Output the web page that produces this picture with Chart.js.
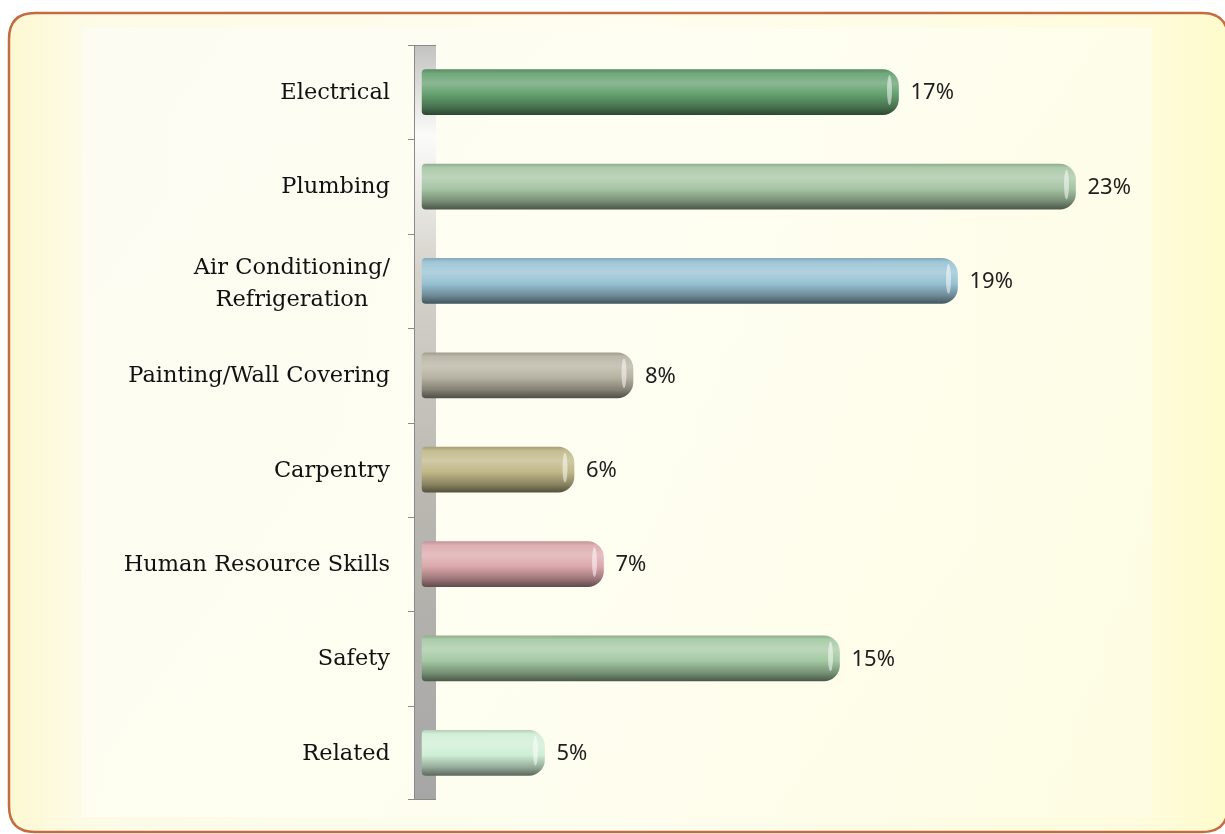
<!DOCTYPE html>
<html>
<head>
<meta charset="utf-8">
<script src="https://cdn.jsdelivr.net/npm/chart.js@4.4.1/dist/chart.umd.min.js"></script>
<style>
  html, body { margin: 0; padding: 0; background: #fff; }
  #wrap { width: 1225px; height: 834px; }
</style>
</head>
<body>
<div id="wrap"><canvas id="myChart" width="1225" height="834"></canvas></div>
<script>
const categories = [
  'Electrical',
  'Plumbing',
  ['Air Conditioning/', 'Refrigeration'],
  'Painting/Wall Covering',
  'Carpentry',
  'Human Resource Skills',
  'Safety',
  'Related'
];
const shares = [17, 23, 19, 8, 6, 7, 15, 5];
const barColors = ['#64a06f', '#a6c5a4', '#98c2d3', '#b7b3a2', '#c0b888', '#dca8ac', '#a4c9a3', '#cfeed5'];

// lighten (f>0) or darken (f<0) a hex colour
function shade(hex, f) {
  const n = parseInt(hex.slice(1), 16);
  let r = n >> 16, g = (n >> 8) & 255, b = n & 255;
  if (f >= 0) {
    r += (255 - r) * f; g += (255 - g) * f; b += (255 - b) * f;
  } else {
    r *= 1 + f; g *= 1 + f; b *= 1 + f;
  }
  return 'rgb(' + Math.round(r) + ',' + Math.round(g) + ',' + Math.round(b) + ')';
}

const BAR_H = 45;

function barFill(c) {
  const chart = c.chart;
  const col = barColors[c.dataIndex];
  if (!chart.chartArea) return col;
  const y = chart.scales.y.getPixelForValue(c.dataIndex);
  const g = chart.ctx.createLinearGradient(0, y - BAR_H / 2, 0, y + BAR_H / 2);
  g.addColorStop(0, shade(col, -0.12));
  g.addColorStop(0.08, shade(col, 0.08));
  g.addColorStop(0.3, shade(col, 0.25));
  g.addColorStop(0.55, shade(col, 0));
  g.addColorStop(0.82, shade(col, -0.28));
  g.addColorStop(1, shade(col, -0.55));
  return g;
}

// frame, wall and text are drawn around the chart
const decor = {
  id: 'decor',
  beforeDraw(chart) {
    const ctx = chart.ctx;
    ctx.save();
    ctx.fillStyle = '#fff';
    ctx.fillRect(0, 0, chart.width, chart.height);
    const x0 = 9, y0 = 13, x1 = 1228, y1 = 832, r = 26;
    ctx.beginPath();
    ctx.moveTo(x0 + r, y0);
    ctx.lineTo(x1 - r, y0);
    ctx.quadraticCurveTo(x1, y0, x1, y0 + r);
    ctx.lineTo(x1, y1 - r);
    ctx.quadraticCurveTo(x1, y1, x1 - r, y1);
    ctx.lineTo(x0 + r, y1);
    ctx.quadraticCurveTo(x0, y1, x0, y1 - r);
    ctx.lineTo(x0, y0 + r);
    ctx.quadraticCurveTo(x0, y0, x0 + r, y0);
    ctx.closePath();
    const bg = ctx.createLinearGradient(x0, 0, x1, 0);
    bg.addColorStop(0, '#fcf8d2');
    bg.addColorStop(0.06, '#fdfbe6');
    bg.addColorStop(0.5, '#fefdf0');
    bg.addColorStop(0.93, '#fefcdc');
    bg.addColorStop(1, '#fefbcc');
    ctx.fillStyle = bg;
    ctx.fill();
    // plot area panel
    const pg = ctx.createLinearGradient(82, 28, 1152, 817);
    pg.addColorStop(0, 'rgba(252,252,244,0.9)');
    pg.addColorStop(0.5, 'rgba(254,254,242,0.8)');
    pg.addColorStop(1, 'rgba(254,253,230,0.6)');
    ctx.fillStyle = pg;
    ctx.fillRect(82, 28, 1070, 789);
    ctx.lineWidth = 2.5;
    ctx.strokeStyle = '#c26c40';
    ctx.stroke();
    ctx.restore();
  },
  beforeDatasetsDraw(chart) {
    const ctx = chart.ctx;
    const ca = chart.chartArea;
    const wl = 414, wr = 436;
    ctx.save();
    const wg = ctx.createLinearGradient(0, ca.top, 0, ca.bottom);
    wg.addColorStop(0, '#c2c2c0');
    wg.addColorStop(0.12, '#fbfbfa');
    wg.addColorStop(0.3, '#d4d2ca');
    wg.addColorStop(0.6, '#b9b7b0');
    wg.addColorStop(1, '#a6a6a6');
    ctx.fillStyle = wg;
    ctx.fillRect(wl, ca.top, wr - wl, ca.bottom - ca.top);
    ctx.strokeStyle = '#8a8a8a';
    ctx.lineWidth = 1;
    ctx.beginPath();
    ctx.moveTo(wl + 0.5, ca.top);
    ctx.lineTo(wl + 0.5, ca.bottom);
    ctx.moveTo(408, ca.top + 0.5);
    ctx.lineTo(wr, ca.top + 0.5);
    ctx.moveTo(408, ca.bottom - 0.5);
    ctx.lineTo(wr, ca.bottom - 0.5);
    const n = categories.length;
    for (let k = 1; k < n; k++) {
      const y = Math.round(ca.top + k * (ca.bottom - ca.top) / n) + 0.5;
      ctx.moveTo(408, y);
      ctx.lineTo(wl, y);
    }
    ctx.stroke();
    ctx.restore();
  },
  afterDatasetsDraw(chart) {
    const ctx = chart.ctx;
    const meta = chart.getDatasetMeta(0);
    ctx.save();
    meta.data.forEach((bar, i) => {
      const p = bar.getProps(['x', 'y', 'height']);
      // light stripe on the rounded end
      ctx.fillStyle = 'rgba(255,255,255,0.5)';
      ctx.beginPath();
      ctx.ellipse(p.x - 9, p.y - 2, 2.5, p.height * 0.33, 0, 0, Math.PI * 2);
      ctx.fill();
      // value label
      ctx.fillStyle = '#1e1e1e';
      ctx.font = '22px "Noto Sans"';
      ctx.textAlign = 'left';
      ctx.textBaseline = 'middle';
      ctx.fillText(shares[i] + '%', p.x + 12, p.y + 1);
      // category label
      const lab = categories[i];
      ctx.font = '22.5px "DejaVu Serif"';
      ctx.fillStyle = '#111';
      if (Array.isArray(lab)) {
        const w = Math.max(...lab.map(s => ctx.measureText(s).width));
        const cx = 390 - w / 2;
        ctx.textAlign = 'center';
        lab.forEach((s, j) => ctx.fillText(s, cx, p.y + (j - (lab.length - 1) / 2) * 32 + 3));
      } else {
        ctx.textAlign = 'right';
        ctx.fillText(lab, 390, p.y + 1);
      }
    });
    ctx.restore();
  }
};

const ctx = document.getElementById('myChart').getContext('2d');
const my = new Chart(ctx, {
  type: 'bar',
  data: {
    labels: categories,
    datasets: [{
      data: shares,
      base: 0.85,
      barThickness: BAR_H,
      backgroundColor: barFill,
      borderWidth: 0,
      borderSkipped: false,
      borderRadius: { topLeft: 4, bottomLeft: 4, topRight: 16, bottomRight: 16 }
    }]
  },
  options: {
    responsive: false,
    animation: false,
    indexAxis: 'y',
    layout: { padding: { left: 0, right: 2, top: 45, bottom: 34 } },
    plugins: { legend: { display: false }, tooltip: { enabled: false } },
    scales: {
      x: { display: false, min: 0, max: 28 },
      y: {
        grid: { display: false, drawTicks: false },
        border: { display: false },
        ticks: { display: false },
        afterFit(scale) { scale.width = 397; }
      }
    }
  },
  plugins: [decor]
});
</script>
</body>
</html>
